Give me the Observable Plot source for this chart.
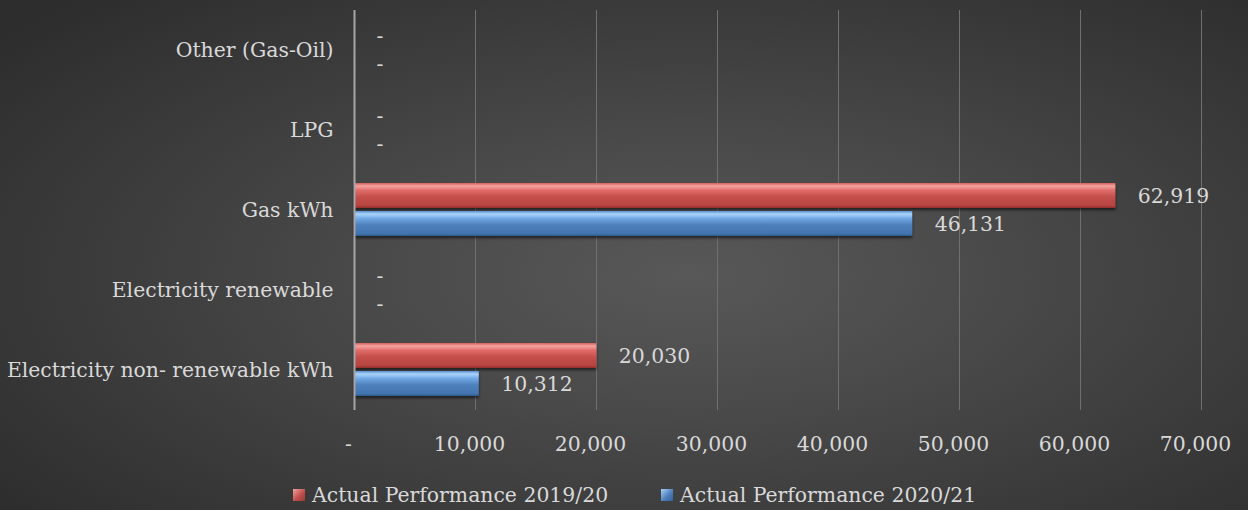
<!DOCTYPE html>
<html>
<head>
<meta charset="utf-8">
<script src="https://cdn.jsdelivr.net/npm/d3@7"></script>
<script src="https://cdn.jsdelivr.net/npm/@observablehq/plot@0.6"></script>
<style>
  html, body { margin: 0; padding: 0; }
  body {
    width: 1248px; height: 510px; overflow: hidden; position: relative;
    background: radial-gradient(ellipse 70% 75% at 55% 54%, #585858 0%, #4a4a4a 35%, #2d2d2d 100%);
    font-family: "DejaVu Serif", serif;
  }
  #legend {
    position: absolute; left: 0; top: 482px; width: 1248px; height: 26px;
    color: #d9d9d9; font-size: 20.4px; font-family: "DejaVu Serif", serif;
  }
  .item { position: absolute; top: 0; line-height: 26px; white-space: nowrap; }
  .sw { position: absolute; top: 7px; width: 12px; height: 12px; }
  .lt { position: absolute; top: 0; left: 19px; }
</style>
</head>
<body>
<div id="chart"></div>
<div id="legend"></div>
<script>
const categories = ["Other (Gas-Oil)", "LPG", "Gas kWh", "Electricity renewable", "Electricity non- renewable kWh"];
const seriesNames = ["Actual Performance 2019/20", "Actual Performance 2020/21"];
const perf1920 = [0, 0, 62919, 0, 20030];
const perf2021 = [0, 0, 46131, 0, 10312];
const xTicks = [0, 10000, 20000, 30000, 40000, 50000, 60000, 70000];
const seriesColors = ["url(#gradRed)", "url(#gradBlue)"];

const data = [];
categories.forEach((c, i) => {
  data.push({category: c, series: seriesNames[0], value: perf1920[i]});
  data.push({category: c, series: seriesNames[1], value: perf2021[i]});
});

const fmt = d3.format(",");
const label = v => v === 0 ? "-" : fmt(v);

const plot = Plot.plot({
  width: 1248,
  height: 470,
  marginTop: 10,
  marginBottom: 60,
  marginLeft: 354,
  marginRight: 47,
  style: {fontSize: "20.4px", fontFamily: "DejaVu Serif, serif", color: "#d9d9d9", background: "transparent"},
  x: {domain: [0, 70000], ticks: xTicks, tickFormat: label, tickSize: 0, tickPadding: 26, label: null},
  fy: {domain: categories, padding: 0, label: null, tickSize: 0, tickPadding: 21},
  y: {domain: seriesNames, paddingInner: 0.107, paddingOuter: 0.482, axis: null},
  color: {domain: seriesNames, range: seriesColors},
  marks: [
    Plot.gridX(xTicks.slice(1), {stroke: "#707070", strokeOpacity: 1, strokeWidth: 1}),
    Plot.barX(data, {fy: "category", y: "series", x: "value", fill: "series"}),
    Plot.ruleX([0], {stroke: "#a6a6a6", strokeWidth: 2}),
    Plot.text(data, {fy: "category", y: "series", x: "value", text: d => label(d.value),
      textAnchor: "start", dx: 22, fill: "#d9d9d9"}),
    Plot.axisX({ticks: xTicks, tickFormat: label, tickSize: 0, tickPadding: 26, dx: -6, label: null, anchor: "bottom"})
  ]
});

const svg = d3.select(plot);
const defs = svg.insert("defs", ":first-child");
function grad(id, stops) {
  const g = defs.append("linearGradient").attr("id", id).attr("x1", 0).attr("x2", 0).attr("y1", 0).attr("y2", 1);
  stops.forEach(([o, c]) => g.append("stop").attr("offset", o).attr("stop-color", c));
}
grad("gradRed", [[0, "#d4605d"], [0.12, "#f5a3a1"], [0.3, "#e06b68"], [0.55, "#c4504d"], [0.9, "#b7433f"], [1, "#8e2f2c"]]);
grad("gradBlue", [[0, "#5b8fd0"], [0.12, "#a9d4fb"], [0.3, "#72a8e6"], [0.55, "#4f81bd"], [0.9, "#4474b0"], [1, "#2f5a8e"]]);
const f = defs.append("filter").attr("id", "shadow").attr("x", "-5%").attr("y", "-30%").attr("width", "110%").attr("height", "170%");
f.append("feDropShadow").attr("dx", 0).attr("dy", 2).attr("stdDeviation", 1.5).attr("flood-color", "#000").attr("flood-opacity", 0.6);
svg.selectAll("g[aria-label='bar'] rect").attr("filter", "url(#shadow)");

document.getElementById("chart").appendChild(plot);

const legend = document.getElementById("legend");
const legendX = [293, 661];
seriesNames.forEach((s, i) => {
  const div = document.createElement("div");
  div.className = "item";
  div.style.left = legendX[i] + "px";
  const sw = document.createElement("span");
  sw.className = "sw";
  sw.style.background = i === 0
    ? "linear-gradient(135deg, #f5a3a1, #c0504d 55%, #9b3835)"
    : "linear-gradient(135deg, #a9d4fb, #4f81bd 55%, #365f93)";
  div.appendChild(sw);
  const t = document.createElement("span");
  t.className = "lt";
  t.textContent = s;
  div.appendChild(t);
  legend.appendChild(div);
});
</script>
</body>
</html>
